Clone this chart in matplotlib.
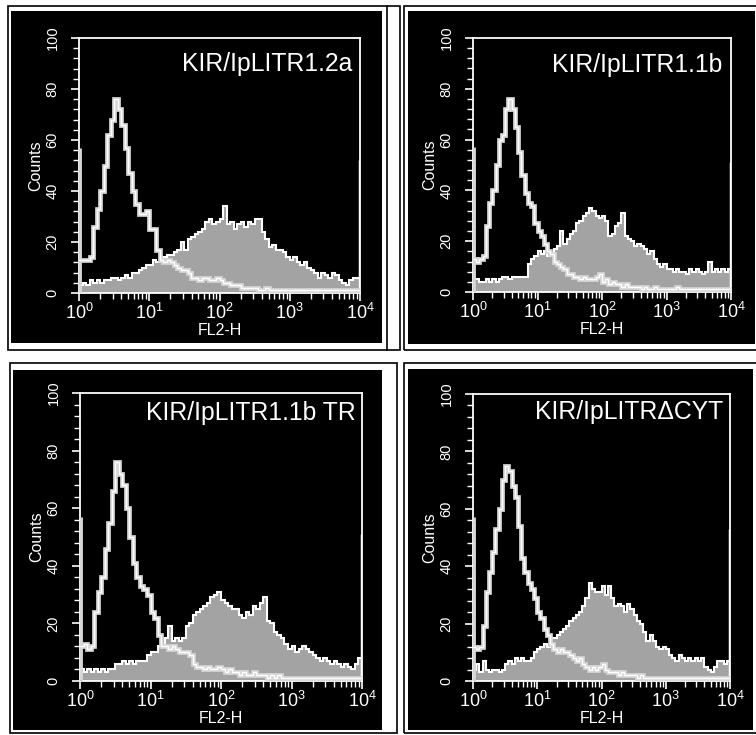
import numpy as np
import matplotlib
matplotlib.use("Agg")
import matplotlib.pyplot as plt
from matplotlib.patches import Rectangle
from matplotlib.lines import Line2D
from matplotlib.ticker import LogLocator, MultipleLocator, FuncFormatter, NullFormatter

# ---------------- data (80 log-spaced channels from 10^0 to 10^4) ----------------
titles = ["KIR/IpLITR1.2a", "KIR/IpLITR1.1b", "KIR/IpLITR1.1b TR", "KIR/IpLITR\u0394CYT"]

control_p1 = [13, 13, 13, 14, 26, 33, 40, 50, 62, 68,
              76, 72, 66, 57, 47, 40, 35, 31, 31, 32,
              25, 25, 17, 13, 12, 13, 12, 11, 10, 9,
              9, 8, 6, 6, 5, 6, 6, 5, 5, 6,
              5, 4, 4, 3, 3, 3, 2, 2, 2, 2,
              2, 1, 1, 2, 1, 1, 1, 1, 1, 1,
              1, 1, 1, 1, 1, 1, 1, 1, 1, 1,
              1, 1, 1, 1, 1, 1, 1, 1, 1, 1]
filled_p1 = [3, 4, 3, 5, 4, 5, 4, 5, 5, 6,
             6, 5, 6, 7, 6, 8, 8, 9, 10, 11,
             11, 13, 12, 14, 14, 15, 15, 16, 17, 20,
             17, 21, 22, 23, 24, 25, 28, 29, 27, 28,
             29, 34, 27, 28, 25, 27, 28, 26, 28, 27,
             29, 29, 24, 21, 18, 19, 17, 17, 16, 14,
             13, 14, 12, 11, 12, 10, 9, 8, 6, 8,
             7, 6, 8, 7, 5, 4, 3, 5, 6, 6]

control_p2 = [13, 12, 13, 14, 26, 35, 40, 50, 60, 62,
              72, 76, 72, 65, 55, 46, 39, 35, 34, 27,
              24, 22, 19, 16, 15, 12, 11, 10, 9, 7,
              7, 6, 6, 5, 6, 5, 5, 5, 6, 7,
              4, 5, 3, 4, 3, 3, 2, 3, 2, 2,
              2, 2, 1, 2, 1, 1, 2, 1, 1, 1,
              1, 1, 1, 2, 1, 1, 1, 1, 1, 1,
              1, 1, 1, 1, 1, 1, 1, 1, 1, 1]
filled_p2 = [5, 5, 4, 4, 5, 4, 5, 4, 5, 6,
             6, 5, 6, 6, 6, 6, 6, 11, 13, 14,
             16, 15, 16, 14, 15, 17, 18, 24, 19, 21,
             23, 24, 27, 28, 30, 31, 33, 32, 30, 29,
             30, 28, 22, 23, 26, 27, 31, 22, 21, 20,
             18, 19, 18, 17, 15, 16, 13, 11, 10, 11,
             9, 9, 8, 9, 8, 8, 7, 9, 8, 9,
             8, 7, 8, 12, 8, 9, 8, 9, 8, 9]

control_p3 = [12, 13, 11, 12, 24, 31, 36, 46, 55, 66,
              76, 72, 68, 60, 50, 41, 36, 33, 32, 30,
              24, 22, 16, 12, 12, 11, 12, 11, 10, 10,
              10, 9, 6, 5, 5, 4, 5, 4, 4, 5,
              4, 3, 4, 3, 3, 2, 3, 2, 2, 3,
              2, 2, 2, 1, 2, 1, 2, 1, 1, 1,
              1, 1, 1, 1, 1, 1, 1, 1, 1, 1,
              1, 1, 1, 1, 1, 1, 1, 1, 1, 1]
filled_p3 = [4, 3, 4, 3, 4, 3, 4, 3, 4, 4,
             6, 6, 7, 6, 7, 6, 7, 7, 7, 9,
             10, 10, 12, 12, 15, 19, 14, 15, 14, 15,
             19, 20, 23, 24, 25, 26, 27, 29, 30, 31,
             28, 27, 26, 25, 25, 23, 22, 24, 23, 26,
             25, 27, 29, 21, 20, 17, 16, 15, 13, 11,
             12, 10, 11, 12, 11, 10, 9, 8, 7, 8,
             7, 6, 7, 6, 5, 6, 5, 4, 6, 8]

control_p4 = [12, 11, 12, 19, 31, 38, 45, 53, 60, 70,
              75, 73, 68, 64, 54, 43, 38, 34, 32, 29,
              24, 22, 18, 16, 13, 11, 10, 11, 10, 10,
              9, 8, 7, 8, 6, 5, 4, 5, 4, 5,
              6, 4, 3, 3, 3, 2, 3, 2, 2, 2,
              2, 1, 2, 1, 1, 1, 1, 1, 1, 1,
              1, 1, 1, 1, 1, 1, 1, 1, 1, 1,
              1, 1, 1, 1, 1, 1, 1, 1, 1, 1]
filled_p4 = [4, 6, 3, 7, 4, 3, 4, 4, 3, 4,
             6, 7, 6, 8, 7, 8, 7, 7, 8, 10,
             11, 12, 13, 12, 15, 15, 16, 17, 18, 19,
             21, 22, 23, 24, 26, 29, 34, 32, 31, 31,
             33, 30, 33, 29, 26, 27, 26, 24, 27, 25,
             23, 21, 20, 17, 14, 16, 14, 12, 11, 12,
             11, 9, 8, 7, 9, 8, 7, 8, 7, 8,
             7, 8, 5, 4, 3, 5, 7, 7, 6, 7]

# first-channel (control) and last-channel (stained) pile-ups
control_first = [57, 57, 57, 57]
filled_last = [52, 51, 51, 53]

controls = [control_p1, control_p2, control_p3, control_p4]
filleds = [filled_p1, filled_p2, filled_p3, filled_p4]

y_ticks = [0, 20, 40, 60, 80, 100]
x_label = "FL2-H"
y_label = "Counts"

# ---------------- layout ----------------
W, H = 756, 735
fig = plt.figure(figsize=(W / 100, H / 100), dpi=100)
fig.patch.set_facecolor("white")

SANS = ["Liberation Sans", "DejaVu Sans"]


def px_rect(x0, y0, x1, y1, **kw):
    r = Rectangle((x0 / W, 1 - y1 / H), (x1 - x0) / W, (y1 - y0) / H,
                  transform=fig.transFigure, zorder=-10, **kw)
    fig.patches.append(r)


def px_line(x0, y0, x1, y1, **kw):
    fig.lines.append(Line2D([x0 / W, x1 / W], [1 - y0 / H, 1 - y1 / H],
                            transform=fig.transFigure, zorder=-9, **kw))


# panel frames & black backgrounds
px_rect(8, 6, 400, 350, facecolor="none", edgecolor="black", linewidth=1.2)
px_line(387, 6, 387, 350, color="black", linewidth=1.2)
px_rect(11, 11, 382, 343, facecolor="black", edgecolor="none")

px_rect(404, 6, 762, 350, facecolor="none", edgecolor="black", linewidth=1.2)
px_rect(408, 11, 755, 344, facecolor="black", edgecolor="none")

px_rect(10, 363, 397, 733, facecolor="none", edgecolor="black", linewidth=1.2)
px_rect(13, 370, 382, 730, facecolor="black", edgecolor="none")

px_rect(404, 363, 762, 733, facecolor="none", edgecolor="black", linewidth=1.2)
px_rect(408, 369, 753, 730, facecolor="black", edgecolor="none")

axes_px = [(79, 38, 360, 293), (473, 38, 731, 292),
           (80, 393, 362, 681), (473, 394, 730, 681)]
title_pos = [(0.972, 0.90), (0.965, 0.894), (0.979, 0.93), (0.973, 0.937)]

edges = 10 ** (np.arange(81) * 0.05)

FILL = "#a3a3a3"
CTRL = "#d6d6d6"


def dec_fmt(v, pos):
    return r"$\mathregular{10^{%d}}$" % int(round(np.log10(v)))


for k in range(4):
    x0, y0, x1, y1 = axes_px[k]
    ax = fig.add_axes([x0 / W, 1 - y1 / H, (x1 - x0) / W, (y1 - y0) / H])
    ax.set_facecolor("black")
    ax.set_xscale("log")
    ax.set_xlim(1, 1e4)
    ax.set_ylim(0, 100)

    # stained (filled) histogram
    ax.stairs(filleds[k], edges, fill=True, color=FILL, baseline=0, zorder=2)
    ax.stairs(filleds[k], edges, baseline=None, color="white", linewidth=1.5, zorder=3)
    ax.vlines(edges[-1], 0, filled_last[k], color="white", linewidth=2.5, zorder=3)

    # control histogram (open)
    ax.stairs(controls[k], edges, baseline=None, color=CTRL, linewidth=3.4, zorder=4)
    ax.stairs(controls[k], edges, baseline=None, color="white", linewidth=1.0, zorder=5)
    ax.vlines(edges[0], 0, control_first[k], color=CTRL, linewidth=3.5, zorder=4)

    for s in ax.spines.values():
        s.set_color("white")
        s.set_linewidth(1.3)

    ax.xaxis.set_major_locator(LogLocator(base=10, numticks=10))
    ax.xaxis.set_minor_locator(LogLocator(base=10, subs=np.arange(2, 10), numticks=20))
    ax.xaxis.set_major_formatter(FuncFormatter(dec_fmt))
    ax.xaxis.set_minor_formatter(NullFormatter())
    ax.yaxis.set_minor_locator(MultipleLocator(4))

    ax.tick_params(which="both", direction="out", color="white", labelcolor="white")
    ax.tick_params(which="major", length=6, width=1.2)
    ax.tick_params(which="minor", length=4, width=1.0)
    ax.tick_params(axis="x", which="major", pad=1)
    for lab in ax.get_xticklabels():
        lab.set_family(SANS)
        lab.set_fontsize(13)
    ax.set_yticks(y_ticks)
    ax.set_yticklabels([str(v) for v in y_ticks], rotation=90, va="center",
                       family=SANS, fontsize=10.5)
    ax.tick_params(axis="y", which="major", pad=8)

    ax.set_xlabel(x_label, color="white", family=SANS, fontsize=11.5, labelpad=0)
    ax.set_ylabel(y_label, color="white", family=SANS, fontsize=11.5, labelpad=2)

    ax.text(title_pos[k][0], title_pos[k][1], titles[k], transform=ax.transAxes,
            ha="right", va="center", color="white", family=SANS, fontsize=17.8,
            zorder=6)

fig.savefig("out.png", dpi=100, facecolor="white")
